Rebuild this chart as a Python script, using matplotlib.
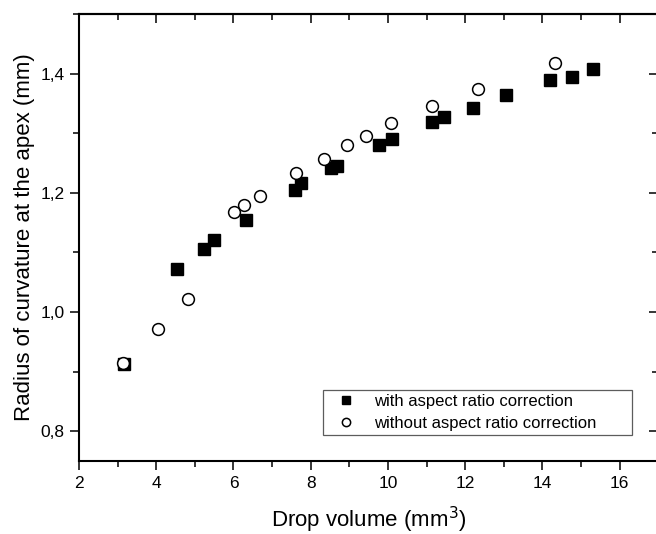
import numpy as np
import matplotlib
matplotlib.use("Agg")
import matplotlib.pyplot as plt
from matplotlib.ticker import MultipleLocator, FuncFormatter

plt.rcParams['font.family'] = ['Liberation Sans', 'DejaVu Sans']

# with aspect ratio correction (filled squares)
vol_corr = [3.17, 4.54, 5.25, 5.49, 6.33, 7.60, 7.76, 8.52, 8.67, 9.78, 10.11,
            11.14, 11.46, 12.21, 13.06, 14.21, 14.76, 15.30]
rad_corr = [0.913, 1.072, 1.106, 1.120, 1.155, 1.204, 1.216, 1.241, 1.245, 1.280, 1.291,
            1.318, 1.328, 1.343, 1.364, 1.389, 1.394, 1.407]

# without aspect ratio correction (open circles)
vol_nocorr = [3.15, 4.04, 4.82, 6.01, 6.28, 6.70, 7.63, 8.35, 8.94, 9.44, 10.09,
              11.14, 12.33, 14.32]
rad_nocorr = [0.914, 0.971, 1.021, 1.168, 1.179, 1.195, 1.233, 1.257, 1.281, 1.295, 1.317,
              1.345, 1.374, 1.418]

label_corr = "with aspect ratio correction"
label_nocorr = "without aspect ratio correction"

fig = plt.figure(figsize=(6.56, 5.34), dpi=100)
ax = fig.add_axes([0.1204, 0.1367, 0.883, 0.8371])

ax.plot(vol_corr, rad_corr, 's', color='black', ms=8, mec='black', label=label_corr, zorder=3)
ax.plot(vol_nocorr, rad_nocorr, 'o', mfc='white', mec='black', mew=1.1, ms=8.5,
        label=label_nocorr, zorder=4)

ax.set_xlim(2, 17)
ax.set_ylim(0.75, 1.5)

ax.xaxis.set_major_locator(MultipleLocator(2))
ax.xaxis.set_minor_locator(MultipleLocator(1))
ax.yaxis.set_major_locator(MultipleLocator(0.2))
ax.yaxis.set_minor_locator(MultipleLocator(0.1))
ax.yaxis.set_major_formatter(FuncFormatter(lambda v, p: f"{v:.1f}".replace('.', ',')))

for s in ax.spines.values():
    s.set_linewidth(1.5)

ax.tick_params(which='major', direction='out', length=6.5, width=1.1, labelsize=12.5, pad=4)
ax.tick_params(which='minor', direction='out', length=4, width=1.1)

# top and right: inward ticks, no labels
top = ax.secondary_xaxis('top')
top.xaxis.set_major_locator(MultipleLocator(2))
top.xaxis.set_minor_locator(MultipleLocator(1))
top.tick_params(which='major', direction='in', length=6.5, width=1.1, labeltop=False)
top.tick_params(which='minor', direction='in', length=4, width=1.1)
top.spines['top'].set_linewidth(1.5)

right = ax.secondary_yaxis('right')
right.yaxis.set_major_locator(MultipleLocator(0.2))
right.yaxis.set_minor_locator(MultipleLocator(0.1))
right.tick_params(which='major', direction='in', length=6.5, width=1.1, labelright=False)
right.tick_params(which='minor', direction='in', length=4, width=1.1)

ax.set_xlabel("Drop volume (mm$^3$)", fontsize=16, labelpad=10)
ax.set_ylabel("Radius of curvature at the apex (mm)", fontsize=16, labelpad=4)

leg = ax.legend(loc='lower left', bbox_to_anchor=(0.4214, 0.058, 0.5337, 0.114),
                mode='expand', borderaxespad=0, fontsize=12, markerscale=0.7,
                frameon=True, fancybox=False, edgecolor='#333333', borderpad=0.25,
                handletextpad=0.6, labelspacing=0.4, handlelength=2.2)
leg.get_frame().set_linewidth(0.9)

fig.savefig("out.png", dpi=100)
